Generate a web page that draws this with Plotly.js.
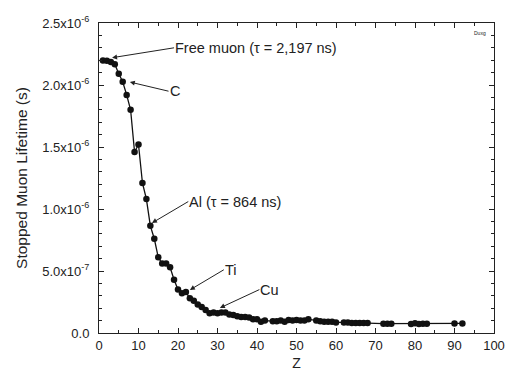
<!DOCTYPE html>
<html><head><meta charset="utf-8">
<script src="https://cdn.plot.ly/plotly-3.0.1.min.js"></script>
<style>html,body{margin:0;padding:0;background:#fff}#chart{width:507px;height:379px}</style>
</head><body><div id="chart"></div>
<script>
const Z = [1,2,3,4,5,6,7,8,9,10,11,12,13,14,15,16,17,18,19,20,21,22,23,24,25,26,27,28,29,30,31,32,33,34,35,36,37,38,39,40,41,42,44,45,46,47,48,49,50,51,52,53,55,56,57,58,59,60,62,63,64,65,66,67,68,72,73,74,79,80,81,82,83,90,92];
const lifetime = [2.197,2.195,2.186,2.168,2.09,2.026,1.92,1.80,1.46,1.52,1.21,1.08,0.864,0.76,0.61,0.56,0.56,0.53,0.43,0.35,0.32,0.33,0.28,0.26,0.23,0.21,0.185,0.16,0.165,0.16,0.165,0.165,0.15,0.145,0.135,0.13,0.13,0.125,0.11,0.11,0.09,0.10,0.095,0.095,0.10,0.09,0.105,0.10,0.105,0.10,0.10,0.11,0.10,0.095,0.09,0.09,0.09,0.085,0.085,0.085,0.08,0.08,0.08,0.08,0.08,0.075,0.075,0.075,0.072,0.078,0.072,0.075,0.074,0.077,0.077].map(v => v*1e-6);
const yTickVals = [0,5e-7,1e-6,1.5e-6,2e-6,2.5e-6];
const yTickText = ['0.0','5.0x10<sup>-7</sup>','1.0x10<sup>-6</sup>','1.5x10<sup>-6</sup>','2.0x10<sup>-6</sup>','2.5x10<sup>-6</sup>'];
const xTickVals = [0,10,20,30,40,50,60,70,80,90,100];

// labels: [text, tailZ, tailTau(us), headZ, headTau(us)] - text sits right of the arrow tail
const labels = [
  ['Free muon (\u03c4 = 2,197 ns)', 19.0, 2.30, 3.3, 2.22],
  ['C', 17.6, 1.95, 7.8, 2.024],
  ['Al (\u03c4 = 864 ns)', 22.6, 1.06, 13.4, 0.887],
  ['Ti', 31.6, 0.51, 23, 0.347],
  ['Cu', 40.6, 0.35, 30.6, 0.202]
];

const font = {family: 'Liberation Sans, Arial, sans-serif', color: '#222'};
const annotations = labels.map(l => ({
  x: l[3], y: l[4]*1e-6, xref:'x', yref:'y', ax: l[1], ay: l[2]*1e-6, axref:'x', ayref:'y',
  text: l[0], showarrow:true, arrowhead:2, arrowsize:1, arrowwidth:1, arrowcolor:'#222',
  xanchor:'left', yanchor:'middle', borderpad:0, font:{...font, size:14.5}
}));
annotations.push({x:0.985, y:0.985, xref:'paper', yref:'paper', text:'Duxg', showarrow:false,
  xanchor:'right', yanchor:'top', font:{...font, size:5}});

const axisCommon = {showline:true, linecolor:'#222', linewidth:1, mirror:'ticks', ticks:'inside',
  ticklen:5, tickcolor:'#222', showgrid:false, zeroline:false, tickfont:{...font, size:13}};

Plotly.newPlot('chart', [{
  x: Z, y: lifetime, mode:'lines+markers', type:'scatter',
  line:{color:'#111', width:1.3}, marker:{color:'#111', size:6.5}
}], {
  width:507, height:379,
  margin:{l:99, r:13, t:23, b:46},
  paper_bgcolor:'#fff', plot_bgcolor:'#fff',
  showlegend:false,
  xaxis:{...axisCommon, range:[0,100], tickvals:xTickVals,
    minor:{dtick:5, ticks:'inside', ticklen:3, tickcolor:'#222'},
    title:{text:'Z', font:{...font, size:14}, standoff:6}},
  yaxis:{...axisCommon, range:[0,2.5e-6], tickvals:yTickVals, ticktext:yTickText,
    minor:{dtick:1e-7, ticks:'inside', ticklen:3, tickcolor:'#222'},
    ticklabelstandoff:6,
    title:{text:'Stopped Muon Lifetime (s)', font:{...font, size:15.5}, standoff:10}},
  annotations: annotations
}, {staticPlot:true});
</script></body></html>
